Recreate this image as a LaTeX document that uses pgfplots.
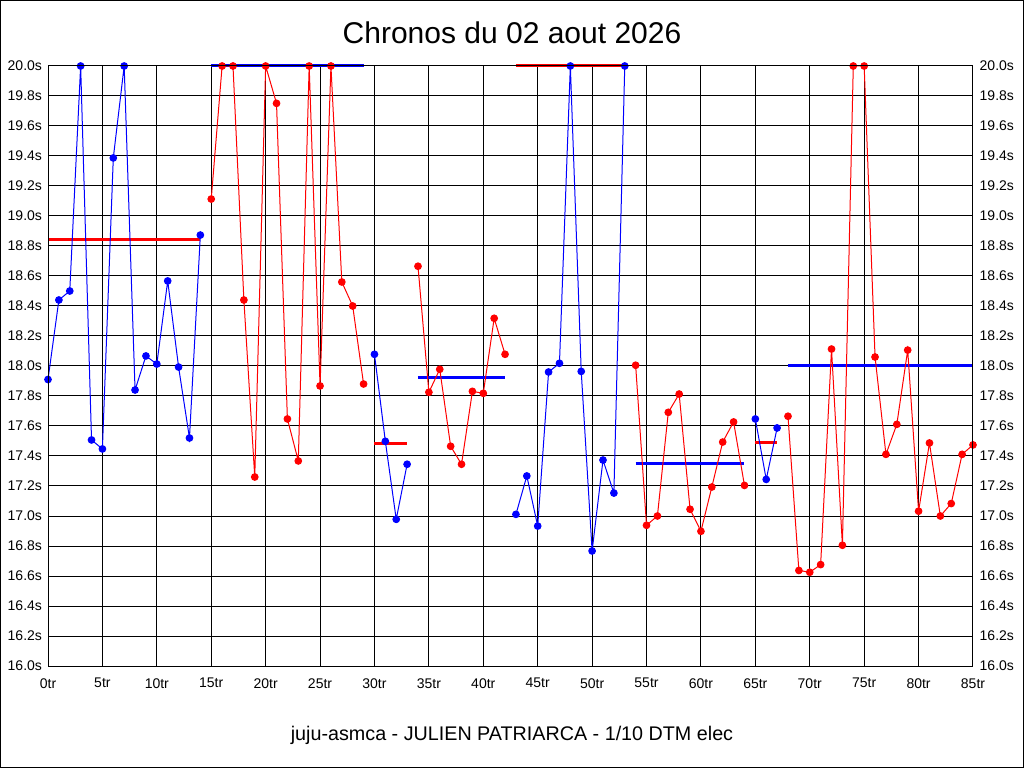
\documentclass[border=0pt]{standalone}
\usepackage{fontspec}
\setmainfont{Liberation Sans}
\usepackage{pgfplots}
\pgfplotsset{compat=1.18}
\definecolor{pblue}{RGB}{0,0,255}
\definecolor{pred}{RGB}{255,0,0}
\pgfplotsset{
  base/.style={
    at={(36pt,76.5pt)}, anchor=south west, scale only axis,
    width=693.75pt, height=450pt,
    xmin=0, xmax=85, ymin=16, ymax=20,
    xtick={0,5,...,85},
    ytick={16.0,16.2,16.4,16.6,16.8,17.0,17.2,17.4,17.6,17.8,18.0,18.2,18.4,18.6,18.8,19.0,19.2,19.4,19.6,19.8,20.0},
    major tick length=0pt,
    axis line style={black, line width=0.75pt},
    /pgf/number format/assume math mode=true,
    tick label style={font=\fontsize{10.5}{12}\selectfont},
    yticklabel={\pgfmathprintnumber[fixed,fixed zerofill,precision=1]{\tick}s},
    clip=false,
  },
  bl/.style={color=pblue, line width=0.75pt, mark=*, mark size=2.5pt, mark options={fill=pblue}},
  rd/.style={color=pred, line width=0.75pt, mark=*, mark size=2.5pt, mark options={fill=pred}},
  avgb/.style={color=pblue, line width=2.25pt, mark=none},
  avgr/.style={color=pred, line width=2.25pt, mark=none},
}
\begin{document}
\begin{tikzpicture}
\useasboundingbox (0,0) rectangle (768pt,576pt);
\fill[white] (0,0) rectangle (768pt,576pt);
\draw[black, line width=0.75pt] (0.375pt,0.375pt) rectangle (767.625pt,575.625pt);
\node[font=\fontsize{22.5}{26}\selectfont] at (384pt,551.25pt) {Chronos du 02 aout 2026};
\node[font=\fontsize{14.8}{17}\selectfont] at (384pt,24.75pt) {juju-asmca - JULIEN PATRIARCA - 1/10 DTM elec};

\begin{axis}[base,
  grid=major, major grid style={black, line width=0.75pt},
  yticklabel pos=left,
  yticklabel style={xshift=-1pt},
  xticklabel={\pgfmathprintnumber{\tick}tr},
  xticklabel style={inner sep=0pt, yshift=-9pt},
]
% average lines
\addplot[avgr] coordinates {(0,18.845) (14,18.845)};
\addplot[avgr] coordinates {(30,17.48) (33,17.48)};
\addplot[avgr] coordinates {(43,20.0) (53,20.0)};
\addplot[avgr] coordinates {(65,17.491) (67,17.491)};
\addplot[avgb] coordinates {(15,20.0) (29,20.0)};
\addplot[avgb] coordinates {(34,17.924) (42,17.924)};
\addplot[avgb] coordinates {(54,17.351) (64,17.351)};
\addplot[avgb] coordinates {(68,18.005) (85,18.005)};
% blue series
\addplot[bl] coordinates {(0,17.91) (1,18.44) (2,18.50) (3,20.0) (4,17.507) (5,17.447) (6,19.387) (7,20.0) (8,17.84) (9,18.067) (10,18.013) (11,18.567) (12,17.993) (13,17.52) (14,18.873)};
\addplot[bl] coordinates {(30,18.078) (31,17.498) (32,16.978) (33,17.345)};
\addplot[bl] coordinates {(43,17.011) (44,17.267) (45,16.933) (46,17.96) (47,18.018) (48,20.0) (49,17.964) (50,16.767) (51,17.373) (52,17.153) (53,20.0)};
\addplot[bl] coordinates {(65,17.647) (66,17.244) (67,17.587)};
% red series
\addplot[rd] coordinates {(15,19.113) (16,20.0) (17,20.0) (18,18.44) (19,17.26) (20,20.0) (21,19.751) (22,17.647) (23,17.367) (24,20.0) (25,17.867) (26,20.0) (27,18.56) (28,18.40) (29,17.88)};
\addplot[rd] coordinates {(34,18.665) (35,17.825) (36,17.978) (37,17.465) (38,17.345) (39,17.831) (40,17.818) (41,18.318) (42,18.078)};
\addplot[rd] coordinates {(54,18.005) (55,16.938) (56,17.0) (57,17.691) (58,17.813) (59,17.045) (60,16.898) (61,17.193) (62,17.493) (63,17.627) (64,17.204)};
\addplot[rd] coordinates {(68,17.665) (69,16.637) (70,16.625) (71,16.676) (72,18.113) (73,16.805) (74,20.0) (75,20.0) (76,18.06) (77,17.411) (78,17.611) (79,18.106) (80,17.032) (81,17.487) (82,17.0) (83,17.083) (84,17.411) (85,17.474)};
\end{axis}

\begin{axis}[base,
  yticklabel pos=right,
  yticklabel style={xshift=1.5pt},
  xticklabels={},
]
\addplot[draw=none, mark=none] coordinates {(0,16) (85,20)};
\end{axis}
\end{tikzpicture}
\end{document}
